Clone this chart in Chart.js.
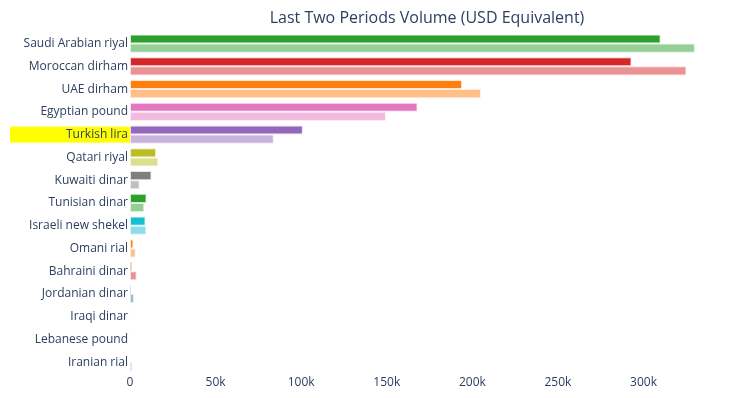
<!DOCTYPE html>
<html>
<head>
<meta charset="utf-8">
<script src="https://cdn.jsdelivr.net/npm/chart.js@4"></script>
<style>
  html, body { margin: 0; padding: 0; background: #fff; }
  #wrap { width: 732px; height: 398px; }
</style>
</head>
<body>
<div id="wrap"><canvas id="volumeChart"></canvas></div>
<script>
// Currencies, top to bottom
const currencies = ["Saudi Arabian riyal", "Moroccan dirham", "UAE dirham", "Egyptian pound", "Turkish lira",
    "Qatari riyal", "Kuwaiti dinar", "Tunisian dinar", "Israeli new shekel", "Omani rial",
    "Bahraini dinar", "Jordanian dinar", "Iraqi dinar", "Lebanese pound", "Iranian rial"];
const currentPeriod = [310000, 293000, 194000, 168000, 101000, 15200, 12600, 9700, 9100, 2000, 1200, 600, 300, 150, 0];
const previousPeriod = [330000, 325000, 205000, 149500, 84000, 16500, 5600, 8300, 9500, 3300, 3900, 2300, 0, 0, 1200];
const currencyColors = ["#2ca02c", "#d62728", "#ff7f0e", "#e377c2", "#9467bd", "#bcbd22", "#7f7f7f",
    "#2ca02c", "#17becf", "#ff7f0e", "#d62728", "#1f77b4", "#9467bd", "#e377c2", "#8c564b"];
const xTicks = [0, 50000, 100000, 150000, 200000, 250000, 300000];
const highlighted = "Turkish lira";

const textColor = '#2a3f5f';

function withAlpha(hex, a) {
    const r = parseInt(hex.slice(1, 3), 16);
    const g = parseInt(hex.slice(3, 5), 16);
    const b = parseInt(hex.slice(5, 7), 16);
    return `rgba(${r},${g},${b},${a})`;
}

// yellow box behind the highlighted tick label
const highlightLabel = {
    id: 'highlightLabel',
    beforeDraw(chart) {
        const y = chart.scales.y;
        const idx = currencies.indexOf(highlighted);
        if (idx < 0) return;
        const cy = y.getPixelForTick(idx);
        const ctx = chart.ctx;
        ctx.save();
        ctx.fillStyle = '#ffff00';
        ctx.fillRect(10, cy - 8, y.right - 10, 16);
        ctx.restore();
    }
};

const ctx = document.getElementById('volumeChart').getContext('2d');
new Chart(ctx, {
    type: 'bar',
    data: {
        labels: currencies,
        datasets: [
            {
                label: 'Current period',
                data: currentPeriod,
                backgroundColor: currencyColors,
                borderColor: currencyColors.map(c => withAlpha(c, 0.2)),
                borderWidth: 1,
                borderSkipped: false
            },
            {
                label: 'Previous period',
                data: previousPeriod,
                backgroundColor: currencyColors.map(c => withAlpha(c, 0.5)),
                borderColor: currencyColors.map(c => withAlpha(c, 0.15)),
                borderWidth: 1,
                borderSkipped: false
            }
        ]
    },
    options: {
        indexAxis: 'y',
        responsive: true,
        maintainAspectRatio: false,
        animation: false,
        datasets: {
            bar: { categoryPercentage: 0.8, barPercentage: 1.0 }
        },
        layout: { padding: { left: 10, right: 8, top: 6, bottom: 6 } },
        plugins: {
            legend: { display: false },
            tooltip: { enabled: false },
            title: {
                display: true,
                fullSize: false,
                text: 'Last Two Periods Volume (USD Equivalent)',
                color: textColor,
                font: { family: 'Open Sans', size: 16, weight: 'normal' },
                padding: { top: 3, bottom: 4 }
            }
        },
        scales: {
            x: {
                min: 0,
                max: 347000,
                afterBuildTicks: scale => { scale.ticks = xTicks.map(v => ({ value: v })); },
                grid: { display: false, drawTicks: false },
                border: { display: false },
                ticks: {
                    color: textColor,
                    font: { family: 'Open Sans', size: 12 },
                    padding: 2,
                    callback: v => v === 0 ? '0' : (v / 1000) + 'k'
                }
            },
            y: {
                afterFit: scale => { scale.width = 120; },
                grid: { display: false, drawTicks: false },
                border: { display: false },
                ticks: {
                    color: textColor,
                    font: { family: 'Open Sans', size: 12 },
                    padding: 2,
                    autoSkip: false
                }
            }
        }
    },
    plugins: [highlightLabel]
});
</script>
</body>
</html>
